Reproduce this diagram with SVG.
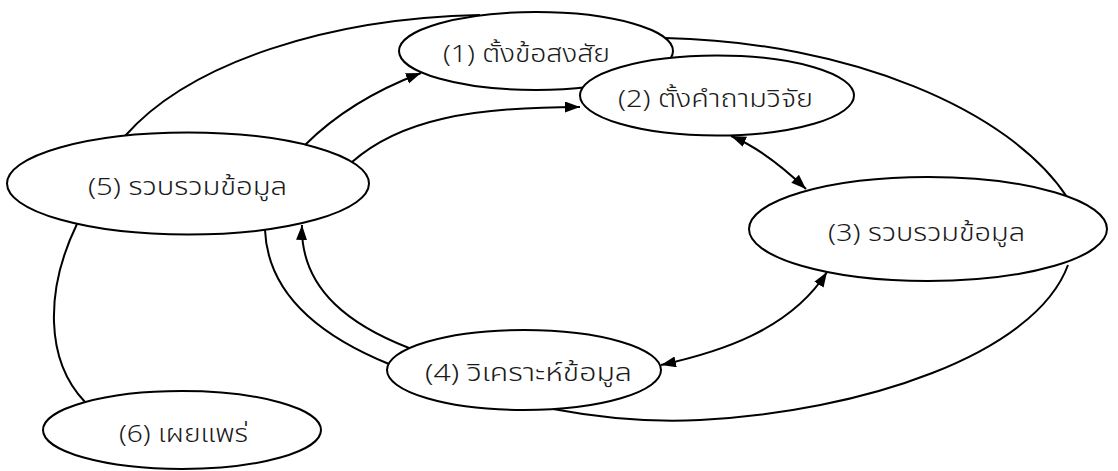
<svg xmlns="http://www.w3.org/2000/svg" width="1118" height="471" viewBox="0 0 1118 471">
<style>
.node ellipse{fill:#fff;stroke:#000;stroke-width:2}
.node text{font-family:"Noto Sans Thai","Noto Sans","DejaVu Sans",sans-serif;font-size:24px;font-weight:300;fill:#1a1a1a}
.conn path{fill:none;stroke:#000;stroke-width:2}
.arr{marker-end:url(#ah)}
.bi{marker-start:url(#ah);marker-end:url(#ah)}
</style>
<defs>
<marker id="ah" markerUnits="userSpaceOnUse" markerWidth="16" markerHeight="12" refX="15" refY="5.5" orient="auto-start-reverse" viewBox="0 0 16 12">
<path d="M0,0 L15,5.5 L0,11 z" fill="#000"/>
</marker>
</defs>
<rect width="1118" height="471" fill="#fff"/>
<g class="conn" id="connectors-back">
<path d="M125,136 C190,62 330,18 480,15"/>
<path d="M665,38 C850,42 1010,110 1067,197"/>
<path d="M1068,265 C1035,355 860,412 700,420 C640,423 590,416 553,409"/>
<path d="M77,224 C45,290 45,360 85,402"/>
<path d="M265,230 C268,300 330,340 389,364"/>
</g>
<g class="node" id="n1"><ellipse cx="536" cy="51" rx="137" ry="39"/><text x="443" y="62" textLength="167" lengthAdjust="spacingAndGlyphs">(1) ตั้งข้อสงสัย</text></g>
<g class="node" id="n2"><ellipse cx="717" cy="95.5" rx="137" ry="40"/><text x="618" y="107" textLength="195" lengthAdjust="spacingAndGlyphs">(2) ตั้งคำถามวิจัย</text></g>
<g class="node" id="n3"><ellipse cx="928" cy="229" rx="179" ry="52"/><text x="828" y="241" textLength="197" lengthAdjust="spacingAndGlyphs">(3) รวบรวมข้อมูล</text></g>
<g class="node" id="n4"><ellipse cx="524" cy="370" rx="137" ry="40"/><text x="425" y="381" textLength="207" lengthAdjust="spacingAndGlyphs">(4) วิเคราะห์ข้อมูล</text></g>
<g class="node" id="n5"><ellipse cx="188" cy="183.5" rx="181" ry="51"/><text x="88" y="195" textLength="199" lengthAdjust="spacingAndGlyphs">(5) รวบรวมข้อมูล</text></g>
<g class="node" id="n6"><ellipse cx="182" cy="430" rx="139" ry="39"/><text x="119" y="442" textLength="129" lengthAdjust="spacingAndGlyphs">(6) เผยแพร่</text></g>
<g class="conn" id="connectors">
<path class="arr" d="M409,348 C355,327 300,292 302,225"/>
<path class="arr" d="M305,145 Q350,100 421,73"/>
<path class="arr" d="M352,162 C400,120 470,107 580,107"/>
<path class="bi" d="M731,136 Q765,150 806,189"/>
<path class="bi" d="M827,272 C790,330 720,352 661,365"/>
</g>
</svg>
